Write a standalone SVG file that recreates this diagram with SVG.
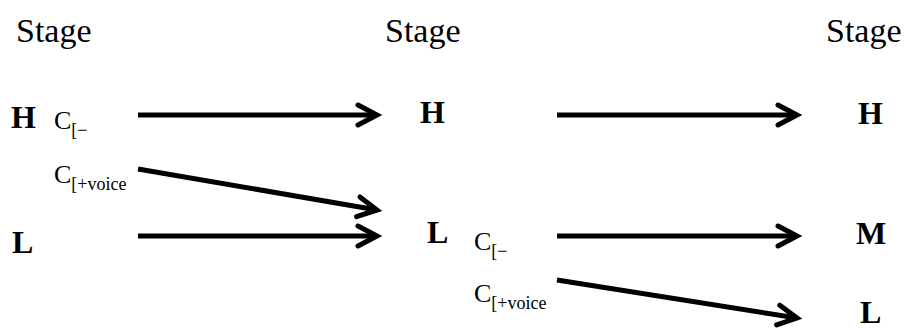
<svg xmlns="http://www.w3.org/2000/svg" width="904" height="329" viewBox="0 0 904 329">
<defs>
<style>
text{font-family:'Liberation Serif','Times New Roman','DejaVu Serif',serif;fill:#000}
.st{font-size:34px}
.tone{font-size:32px;font-weight:bold}
.c{font-size:26px}
.sub{font-size:18px}
.arr{stroke:#000;stroke-width:5;fill:none;marker-end:url(#chev)}
</style>
<marker id="chev" markerUnits="userSpaceOnUse" markerWidth="40" markerHeight="40" viewBox="-30 -20 40 40" refX="0" refY="0" orient="auto" overflow="visible">
<path d="M-19,-10 L0,0 L-19,10" fill="none" stroke="#000" stroke-width="5" stroke-linejoin="miter" stroke-linecap="round"/>
</marker>
</defs>
<g id="stage1"><text class="st" font-family="Liberation Serif, serif" x="16" y="42">Stage</text></g>
<g id="stage2"><text class="st" font-family="Liberation Serif, serif" x="385" y="42">Stage</text></g>
<g id="stage3"><text class="st" font-family="Liberation Serif, serif" x="826" y="42">Stage</text></g>
<g id="H1"><text class="tone" font-family="Liberation Serif, serif" x="11" y="128">H</text></g>
<g id="L1"><text class="tone" font-family="Liberation Serif, serif" x="12" y="253">L</text></g>
<g id="C1"><text class="c" font-family="Liberation Serif, serif" x="54" y="129">C<tspan class="sub" dy="7">[−</tspan></text></g>
<g id="C1v"><text class="c" font-family="Liberation Serif, serif" x="54" y="183">C<tspan class="sub" dy="7">[+voice</tspan></text></g>
<g id="H2"><text class="tone" font-family="Liberation Serif, serif" x="420" y="123">H</text></g>
<g id="L2"><text class="tone" font-family="Liberation Serif, serif" x="427" y="243">L</text></g>
<g id="C2"><text class="c" font-family="Liberation Serif, serif" x="474" y="250">C<tspan class="sub" dy="7">[−</tspan></text></g>
<g id="C2v"><text class="c" font-family="Liberation Serif, serif" x="474" y="302">C<tspan class="sub" dy="7">[+voice</tspan></text></g>
<g id="H3"><text class="tone" font-family="Liberation Serif, serif" x="858" y="124">H</text></g>
<g id="M3"><text class="tone" font-family="Liberation Serif, serif" x="856" y="244">M</text></g>
<g id="L3"><text class="tone" font-family="Liberation Serif, serif" x="860" y="323">L</text></g>
<g id="connectors">
<line class="arr" x1="138" y1="115" x2="377" y2="115"/>
<line class="arr" x1="138" y1="169" x2="377" y2="210"/>
<line class="arr" x1="138" y1="236" x2="377" y2="236"/>
<line class="arr" x1="557" y1="115" x2="797" y2="115"/>
<line class="arr" x1="557" y1="236" x2="797" y2="236"/>
<line class="arr" x1="557" y1="280" x2="797" y2="318"/>
</g>
</svg>
